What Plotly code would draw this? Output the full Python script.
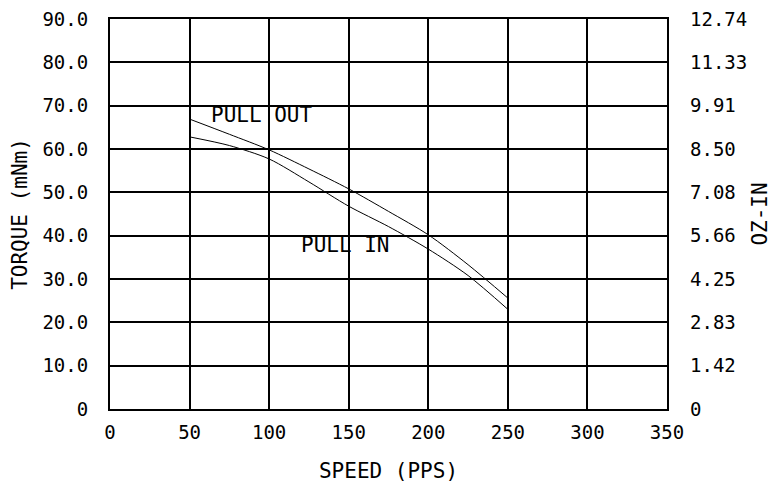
import plotly.graph_objects as go

speed = [50, 75, 100, 125, 150, 175, 200, 225, 250]
pull_out = [66.9, 63.4, 59.8, 55.4, 50.8, 45.6, 40.2, 33.3, 25.6]
pull_in = [62.8, 60.8, 57.7, 52.4, 46.8, 42.1, 36.9, 30.8, 23.0]

x_ticks = [0, 50, 100, 150, 200, 250, 300, 350]
y_ticks = [0, 10, 20, 30, 40, 50, 60, 70, 80, 90]
y_labels = ["0", "10.0", "20.0", "30.0", "40.0", "50.0", "60.0", "70.0", "80.0", "90.0"]
oz_labels = ["0", "1.42", "2.83", "4.25", "5.66", "7.08", "8.50", "9.91", "11.33", "12.74"]

FONT = "DejaVu Sans Mono"
fs = 19
fs_title = 21

fig = go.Figure()
fig.add_trace(go.Scatter(x=speed, y=pull_out, mode="lines", line=dict(color="black", width=1, shape="spline", smoothing=0.8),
                         showlegend=False))
fig.add_trace(go.Scatter(x=speed, y=pull_in, mode="lines", line=dict(color="black", width=1, shape="spline", smoothing=0.8),
                         showlegend=False))
fig.add_trace(go.Scatter(x=[None], y=[None], yaxis="y2", showlegend=False))

fig.add_annotation(x=62.0, y=67.8, text="PULL OUT", showarrow=False, xanchor="left", yanchor="middle",
                   font=dict(family=FONT, size=fs_title, color="black"))
fig.add_annotation(x=118.5, y=37.8, text="PULL IN", showarrow=False, xanchor="left", yanchor="middle",
                   font=dict(family=FONT, size=fs_title, color="black"))

fig.update_layout(
    width=775, height=476,
    margin=dict(l=102, r=116, t=11, b=75),
    paper_bgcolor="white", plot_bgcolor="white",
    font=dict(family=FONT, size=fs, color="black"),
    xaxis=dict(range=[0, 350], tickvals=x_ticks, ticktext=[str(v) for v in x_ticks],
               showgrid=True, gridcolor="black", gridwidth=2, zeroline=False,
               showline=True, linecolor="black", linewidth=2, mirror=True,
               ticks="", ticklabelstandoff=5, automargin=False, ticklabeloverflow="allow",
               title=dict(text="SPEED (PPS)", standoff=22, font=dict(family=FONT, size=fs_title))),
    yaxis=dict(range=[0, 90], tickvals=y_ticks, ticktext=y_labels,
               showgrid=True, gridcolor="black", gridwidth=2, zeroline=False,
               showline=True, linecolor="black", linewidth=2, mirror=True,
               ticks="", ticklabelstandoff=16, automargin=False, ticklabeloverflow="allow",
               title=dict(text="TORQUE (mNm)", standoff=16, font=dict(family=FONT, size=fs_title))),
    yaxis2=dict(range=[0, 90], tickvals=y_ticks, ticktext=oz_labels, overlaying="y", side="right",
                showgrid=False, zeroline=False, ticks="", ticklabelstandoff=22, automargin=False,
                ticklabeloverflow="allow",
                title=dict(text="OZ-IN", standoff=6, font=dict(family=FONT, size=fs_title))),
)

fig.write_html("out.html")
